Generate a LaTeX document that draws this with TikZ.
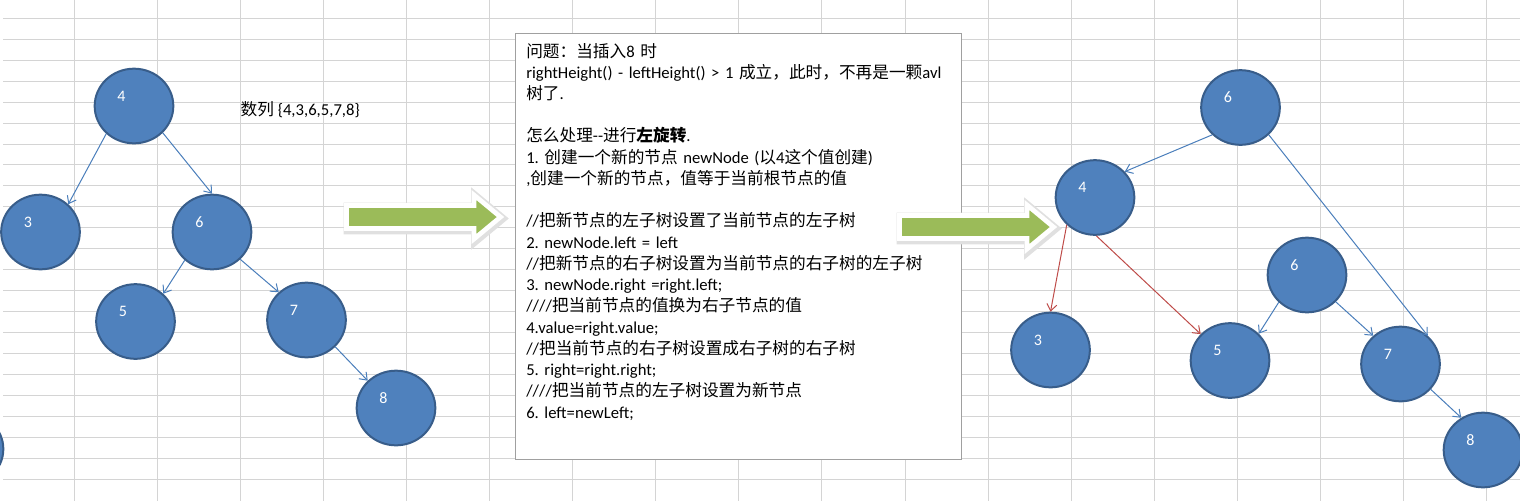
\documentclass[tikz,border=0pt]{standalone}
\usepackage{fontspec}
\setmainfont{Carlito}
\newfontfamily\zhfont{Noto Sans CJK SC}
\newcommand{\zh}[1]{{\zhfont #1}}
\frenchspacing
\usetikzlibrary{shapes.geometric, arrows.meta, positioning}
\definecolor{nodefill}{HTML}{4F81BD}
\definecolor{nodeborder}{HTML}{385D8A}
\definecolor{linkblue}{HTML}{4A7EBB}
\definecolor{linkred}{HTML}{BE4B48}
\definecolor{arrowgreen}{HTML}{9BBB59}
\definecolor{sheetgray}{HTML}{D4D4D4}
\definecolor{boxgray}{HTML}{A0A0A0}

\begin{document}
\begin{tikzpicture}[
    x=0.75pt, y=-0.75pt,
    sheetline/.style={draw=sheetgray, line width=0.75pt},
    num/.style={text=white, font=\fontsize{12pt}{14pt}\selectfont, xshift=-9.4pt, yshift=7.5pt},
    tnode/.style={ellipse, draw=nodeborder, fill=nodefill, line width=1.5pt, minimum width=59pt, minimum height=56pt, inner sep=0pt, label={[num]center:#1}},
    arrow/.style={-{Straight Barb[length=5pt,width=7.5pt]}, draw=linkblue, line width=0.75pt},
    redarrow/.style={arrow, draw=linkred},
    halo/.style={draw=black!12, line width=6.5pt, line join=miter},
    bigarrow/.style={fill=arrowgreen, draw=white, line width=3.5pt, line join=miter},
    notebox/.style={draw=boxgray, fill=white, line width=0.75pt, minimum width=335pt, minimum height=320pt, inner sep=0pt},
    steps/.style={font=\fontsize{12.5pt}{15.93pt}\selectfont, text width=330pt, align=left, inner sep=0pt, anchor=base west}
]
    \useasboundingbox (0,0) rectangle (1520,501);
    % sheet grid
    \foreach \k in {0,...,22}
        \draw[sheetline] (3,{18.3+20.95*\k}) -- (1520,{18.3+20.95*\k});
    \foreach \k in {0,...,17}
        \draw[sheetline] ({74+83.1*\k},0) -- ({74+83.1*\k},501);

    \node[notebox] (note) at (738.5,246.5) {};
    \node[steps] (stepstext) at (526,57) {%
        \zh{问题：当插入}8 \zh{时}\\
        rightHeight() - leftHeight() > 1 \zh{成立，此时，不再是一颗}avl\\
        \zh{树了}.\\
        \mbox{}\\
        \zh{怎么处理}-{}-\zh{进行}\textbf{\zh{左旋转}}.\\
        1. \zh{创建一个新的节点} newNode (\zh{以}4\zh{这个值创建})\\
        ,\zh{创建一个新的节点，值等于当前根节点的值}\\
        \mbox{}\\
        //\zh{把新节点的左子树设置了当前节点的左子树}\\
        2. newNode.left = left\\
        //\zh{把新节点的右子树设置为当前节点的右子树的左子树}\\
        3. newNode.right =right.left;\\
        ////\zh{把当前节点的值换为右子节点的值}\\
        4.value=right.value;\\
        //\zh{把当前节点的右子树设置成右子树的右子树}\\
        5. right=right.right;\\
        ////\zh{把当前节点的左子树设置为新节点}\\
        6. left=newLeft;};

    \foreach \dx/\dy in {0/0, 553/10} {
        \draw[halo, shift={(\dx+1.5,\dy+1.5)}] (346.5,205.5) -- (474,205.5) -- (474,195) -- (500.5,217) -- (474,239) -- (474,228.5) -- (346.5,228.5) -- cycle;
        \draw[bigarrow, shift={(\dx,\dy)}] (346.5,205.5) -- (474,205.5) -- (474,195) -- (500.5,217) -- (474,239) -- (474,228.5) -- (346.5,228.5) -- cycle;
    }

    % before
    \node[tnode=4] (L4) at (134,106) {};
    \node[tnode=3] (L3) at (40.5,232) {};
    \node[tnode=6] (L6) at (212,232) {};
    \node[tnode=5] (L5) at (135.5,321.5) {};
    \node[tnode=7] (L7) at (306.5,320) {};
    \node[tnode=8] (L8) at (396,408) {};
    \node[tnode=] (cut) at (-36,449) {};
    \node[anchor=west, font=\fontsize{12.5pt}{15pt}\selectfont] (seq) at (236,110) {\zh{数列} \{4,3,6,5,7,8\}};

    \draw[arrow] (L4.225) -- (L3.45);
    \draw[arrow] (L4.-43) -- (L6.90);
    \draw[arrow] (L6.226) -- (L5.45);
    \draw[arrow] (L6.-44) -- (L7.135);
    \draw[arrow] (L7.-43) -- (L8.136);

    % after
    \node[tnode=6] (R6) at (1240.5,107.5) {};
    \node[tnode=4] (R4) at (1095,197.5) {};
    \node[tnode=6] (R6b) at (1307,275) {};
    \node[tnode=3] (R3) at (1050.5,350) {};
    \node[tnode=5] (R5) at (1230,360.5) {};
    \node[tnode=7] (R7) at (1400.5,364) {};
    \node[tnode=8] (R8) at (1483,450) {};

    \draw[arrow] (R6.224) -- (R4.41);
    \draw[arrow] (R6.-44) -- (R7.46);
    \draw[redarrow] (R4.224) -- (R3.90);
    \draw[redarrow] (R4.-88) -- (R5.138);
    \draw[arrow] (R6b.224) -- (R5.43);
    \draw[arrow] (R6b.-43) -- (R7.134);
    \draw[arrow] (R7.-40) -- (R8.124);
\end{tikzpicture}
\end{document}
